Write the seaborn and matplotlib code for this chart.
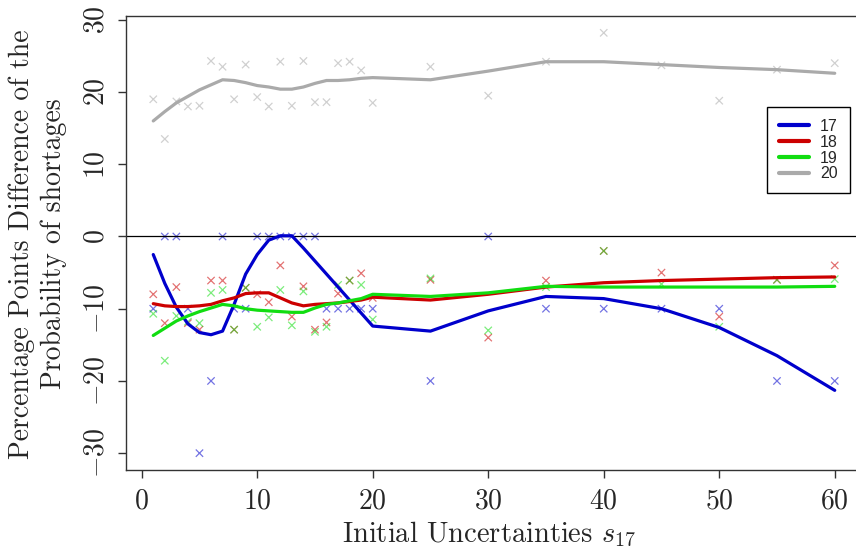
import pandas as pd
import seaborn as sns
import matplotlib.pyplot as plt
import matplotlib as mpl

sns.set_style("ticks")
mpl.rc('font', family='cmr10', size=18)
mpl.rc('mathtext', fontset='cm')
plt.rcParams['axes.formatter.use_mathtext'] = True
plt.rcParams['axes.unicode_minus'] = True

# initial uncertainties s17
s = [1, 2, 3, 4, 5, 6, 7, 8, 9, 10, 11, 12, 13, 14, 15, 16, 17, 18, 19, 20,
     25, 30, 35, 40, 45, 50, 55, 60]
groups = ["17", "18", "19", "20"]

# observed differences (crosses)
pts17 = [-10, 0, 0, -10, -30, -20, 0, -10, -10, 0, 0, 0, 0, 0, 0, -10, -10, -10, -10, -10,
         -20, 0, -10, -10, -10, -10, -20, -20]
pts18 = [-8, -12, -7, -12, -12.9, -6.1, -6.1, -12.9, -7.1, -8, -9.1, -4, -11.1, -6.9, -12.9, -11.9,
         -7.9, -6.1, -5.1, -8.5, -6, -14, -6.1, -2, -5, -11.1, -6, -4]
pts19 = [-10.7, -17.2, -11, -11.8, -12, -7.8, -7.4, -12.9, -7.1, -12.5, -11.2, -7.4, -12.3, -7.6,
         -13.2, -12.5, -6.7, -6.1, -6.7, -11.5, -5.8, -13, -7, -2, -6.6, -12.5, -6, -5.9]
pts20 = [19, 13.5, 18.7, 18, 18.1, 24.3, 23.5, 19, 23.8, 19.3, 18, 24.2, 18.1, 24.3, 18.6, 18.6,
         24, 24.2, 23, 18.5, 23.5, 19.5, 24.2, 28.2, 23.7, 18.8, 23.1, 24]

# smoothed curves
fit17 = [-2.5, -6.5, -9.8, -12.1, -13.3, -13.6, -13.1, -9.4, -5.2, -2.5, -0.5, 0.1, 0.1, -1.6,
         -3.4, -5.2, -7.0, -8.8, -10.6, -12.4, -13.1, -10.3, -8.3, -8.6, -10.0, -12.6, -16.5, -21.3]
fit18 = [-9.3, -9.6, -9.7, -9.7, -9.6, -9.4, -8.9, -8.5, -7.9, -7.8, -7.8, -8.5, -9.2, -9.6, -9.4,
         -9.3, -9.2, -9.0, -8.8, -8.4, -8.8, -8.0, -7.0, -6.4, -6.1, -5.9, -5.7, -5.6]
fit19 = [-13.7, -12.7, -11.7, -11.0, -10.4, -9.9, -9.4, -9.6, -10.0, -10.2, -10.3, -10.4, -10.5,
         -10.5, -9.9, -9.4, -9.2, -8.9, -8.6, -8.0, -8.3, -7.8, -6.9, -7.0, -7.0, -7.0, -7.0, -6.9]
fit20 = [16.0, 17.3, 18.5, 19.4, 20.3, 21.0, 21.7, 21.6, 21.3, 20.9, 20.7, 20.4, 20.4, 20.7, 21.2,
         21.6, 21.6, 21.7, 21.9, 22.0, 21.7, 22.9, 24.2, 24.2, 23.8, 23.4, 23.1, 22.6]

pal = {"17": "#0000cc", "18": "#cc0000", "19": "#11dd11", "20": "#aaaaaa"}

pts = [pts17, pts18, pts19, pts20]
fits = [fit17, fit18, fit19, fit20]
dfPts = pd.concat([pd.DataFrame({"s": s, "diff": p, "group": g}) for g, p in zip(groups, pts)])
dfFit = pd.concat([pd.DataFrame({"s": s, "fit": f, "group": g}) for g, f in zip(groups, fits)])

fig = plt.figure(figsize=(8.56, 5.48), dpi=100)
ax = fig.add_axes([126 / 856, 1 - 470 / 548, (862 - 126) / 856, (470 - 16) / 548])

sns.scatterplot(data=dfPts, x="s", y="diff", hue="group", palette=pal, marker="x",
                s=28, linewidth=0.9, alpha=0.55, legend=False, ax=ax)
ax.axhline(0, color="black", lw=0.9, zorder=1)
sns.lineplot(data=dfFit, x="s", y="fit", hue="group", palette=pal, lw=2.3,
             estimator=None, ax=ax)

ax.set_xlim(-1.36, 62.36)
ax.set_ylim(-32.33, 30.53)
ax.set_xticks(range(0, 61, 10))
ax.set_yticks(range(-30, 31, 10))
ax.tick_params(axis="both", direction="out", length=6, width=1, color="#333333",
               labelsize=20, pad=7)
ax.tick_params(axis="y", labelrotation=90, pad=6)
for lab in ax.get_yticklabels():
    lab.set_va("center")
for sp in ax.spines.values():
    sp.set_color("#333333")
    sp.set_linewidth(1)
ax.spines["right"].set_visible(False)

ax.set_xlabel("")
ax.set_ylabel("")
fig.text(489 / 856, 1 - 542 / 548, r"Initial Uncertainties $s_{17}$",
         ha="center", va="baseline", fontsize=20.5)
fig.text(38 / 856, 1 - 244 / 548, "Percentage Points Difference of the\nProbability of shortages",
         ha="center", va="center", rotation=90, fontsize=20, linespacing=1.25,
         multialignment="center")

handles, labels = ax.get_legend_handles_labels()
leg = ax.legend(handles, labels, loc="upper right", bbox_to_anchor=(850 / 856, 1 - 107 / 548),
                bbox_transform=fig.transFigure, borderaxespad=0, frameon=True, fancybox=False,
                edgecolor="black", framealpha=1, handlelength=1.9, labelspacing=0.05,
                borderpad=0.75, handletextpad=0.7, prop={"family": "Liberation Sans", "size": 11.5})
leg.get_frame().set_linewidth(1)
for ln in leg.get_lines():
    ln.set_linewidth(3)

plt.savefig("out.png", dpi=100)
plt.close()
